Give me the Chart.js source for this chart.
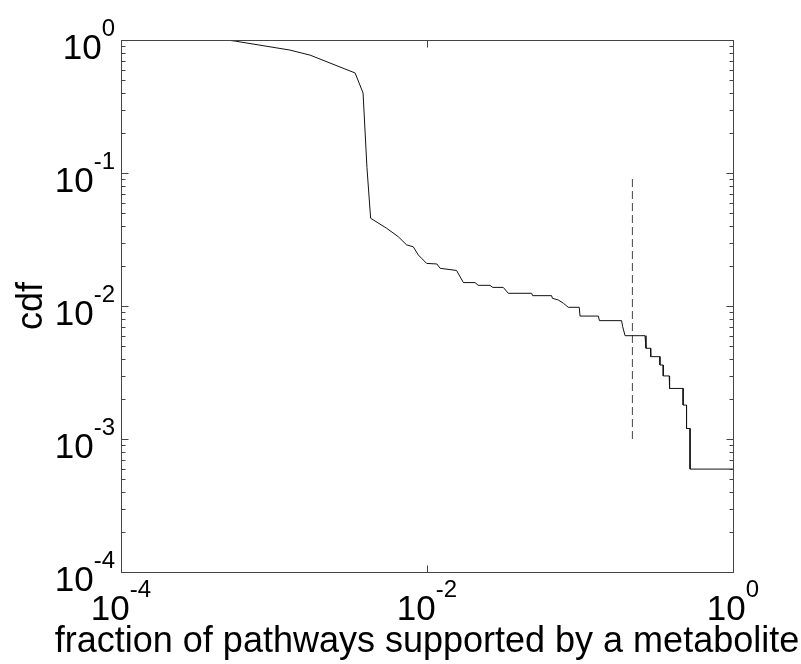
<!DOCTYPE html>
<html>
<head>
<meta charset="utf-8">
<script src="https://cdn.jsdelivr.net/npm/chart.js@4.4.0/dist/chart.umd.min.js"></script>
<style>
  body { margin: 0; background: #fff; }
  #wrap { width: 801px; height: 664px; }
</style>
</head>
<body>
<div id="wrap"><canvas id="cdfChart" width="801" height="664"></canvas></div>
<script>
// cdf curve, corners
const fractionValues = [
  4.9e-4, 5.6e-4, 1.27e-3, 1.72e-3, 3.39e-3, 3.82e-3, 4.05e-3, 4.28e-3,
  5.45e-3, 6.49e-3, 7.36e-3, 8.13e-3, 8.77e-3, 9.95e-3, 0.0116, 0.0122,
  0.0156, 0.0173, 0.0206, 0.0216, 0.0258, 0.0269, 0.0315, 0.034,
  0.0483, 0.049, 0.0652, 0.066, 0.0721, 0.0778, 0.0838, 0.0989,
  0.100, 0.1318, 0.134, 0.187, 0.190, 0.197, 0.266, 0.270,
  0.289, 0.290, 0.333, 0.333, 0.350, 0.350, 0.383, 0.385,
  0.472, 0.472, 0.497, 0.497, 0.524, 0.524, 1.0
];
const cdfValues = [
  1.0, 0.98, 0.84, 0.77, 0.565, 0.40, 0.11, 0.0457,
  0.0384, 0.0332, 0.0288, 0.0279, 0.0242, 0.0209, 0.0207, 0.0192,
  0.0185, 0.0150, 0.0150, 0.0143, 0.0143, 0.0138, 0.0138, 0.01246,
  0.01246, 0.01196, 0.01196, 0.01143, 0.0111, 0.0105, 0.00978, 0.00978,
  0.0084, 0.0084, 0.00776, 0.00776, 0.0070, 0.00598, 0.00598, 0.00481,
  0.00481, 0.00416, 0.00416, 0.0036, 0.0036, 0.00298, 0.00298, 0.0024,
  0.0024, 0.0018, 0.0018, 0.0012, 0.0012, 0.000594, 0.000594
];

// dashed marker line
const markerX = [0.22, 0.22];
const markerY = [0.001, 0.095];

const xTickValues = [1e-4, 1e-2, 1];
const xTickExponents = ['-4', '-2', '0'];
const yTickValues = [1, 1e-1, 1e-2, 1e-3, 1e-4];
const yTickExponents = ['0', '-1', '-2', '-3', '-4'];

const xAxisTitle = 'fraction of pathways supported by a metabolite';
const yAxisTitle = 'cdf';

const FONT = "'Liberation Sans', Arial, Helvetica, sans-serif";
const BASE_SIZE = 35;
const EXP_SIZE = 24;

function drawPower(ctx, exp, cx, baseline, align) {
  ctx.font = BASE_SIZE + 'px ' + FONT;
  const wBase = ctx.measureText('10').width;
  ctx.font = EXP_SIZE + 'px ' + FONT;
  const wExp = ctx.measureText(exp).width;
  let left = align === 'right' ? cx - wBase - wExp : cx - (wBase + wExp) / 2;
  ctx.textAlign = 'left';
  ctx.textBaseline = 'alphabetic';
  ctx.font = BASE_SIZE + 'px ' + FONT;
  ctx.fillText('10', left, baseline);
  ctx.font = EXP_SIZE + 'px ' + FONT;
  ctx.fillText(exp, left + wBase, baseline - 23);
}

// MATLAB style box: inward ticks on all four sides, superscript labels
const matlabAxes = {
  id: 'matlabAxes',
  afterDraw(chart) {
    const ctx = chart.ctx;
    const area = chart.chartArea;
    const xs = chart.scales.x, ys = chart.scales.y;
    const L = Math.round(area.left) + 0.5, R = Math.round(area.right) + 0.5;
    const T = Math.round(area.top) + 0.5, B = Math.round(area.bottom) + 0.5;

    ctx.save();
    ctx.strokeStyle = '#444';
    ctx.lineWidth = 1;
    ctx.strokeRect(L, T, R - L, B - T);

    ctx.beginPath();
    xTickValues.forEach(v => {
      const px = Math.round(xs.getPixelForValue(v)) + 0.5;
      ctx.moveTo(px, B); ctx.lineTo(px, B - 7);
      ctx.moveTo(px, T); ctx.lineTo(px, T + 7);
    });
    for (let e = -4; e <= 0; e++) {
      for (let m = 1; m <= 9; m++) {
        const v = m * Math.pow(10, e);
        if (v > 1) break;
        const py = Math.round(ys.getPixelForValue(v)) + 0.5;
        const len = m === 1 ? 7 : 4;
        ctx.moveTo(L, py); ctx.lineTo(L + len, py);
        ctx.moveTo(R, py); ctx.lineTo(R - len, py);
      }
    }
    ctx.stroke();

    ctx.fillStyle = '#000';
    xTickValues.forEach((v, i) => {
      drawPower(ctx, xTickExponents[i], xs.getPixelForValue(v), area.bottom + 48, 'center');
    });
    yTickValues.forEach((v, i) => {
      drawPower(ctx, yTickExponents[i], area.left - 6, ys.getPixelForValue(v) + 19, 'right');
    });

    ctx.font = '36px ' + FONT;
    ctx.textAlign = 'center';
    ctx.textBaseline = 'alphabetic';
    ctx.fillText(xAxisTitle, (area.left + area.right) / 2, 652);

    ctx.save();
    ctx.translate(42, (area.top + area.bottom) / 2);
    ctx.rotate(-Math.PI / 2);
    ctx.fillText(yAxisTitle, 0, 0);
    ctx.restore();

    ctx.restore();
  }
};

new Chart(document.getElementById('cdfChart'), {
  type: 'scatter',
  data: {
    datasets: [
      {
        data: fractionValues.map((x, i) => ({ x: x, y: cdfValues[i] })),
        showLine: true,
        borderColor: '#111',
        borderWidth: 1,
        pointRadius: 0,
        tension: 0
      },
      {
        data: markerX.map((x, i) => ({ x: x, y: markerY[i] })),
        showLine: true,
        borderColor: '#444',
        borderWidth: 1,
        borderDash: [8, 4],
        pointRadius: 0
      }
    ]
  },
  options: {
    responsive: false,
    animation: false,
    layout: { padding: { left: 121, top: 40, right: 68, bottom: 92 } },
    plugins: { legend: { display: false }, tooltip: { enabled: false } },
    scales: {
      x: { type: 'logarithmic', min: 1e-4, max: 1, display: false },
      y: { type: 'logarithmic', min: 1e-4, max: 1, display: false }
    }
  },
  plugins: [matlabAxes]
});
</script>
</body>
</html>
